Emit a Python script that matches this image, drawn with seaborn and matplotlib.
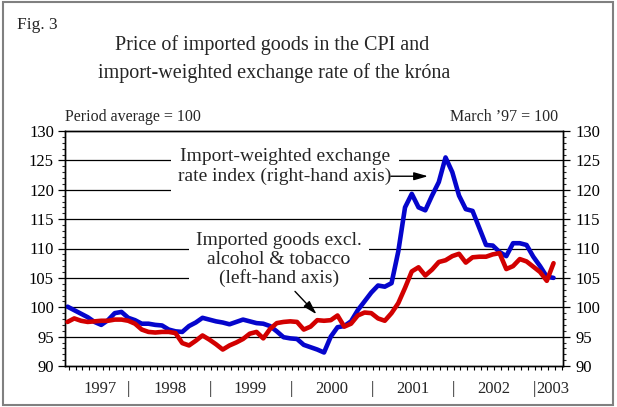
import matplotlib
matplotlib.use("Agg")
import matplotlib.pyplot as plt
import matplotlib.transforms as mtransforms
from matplotlib.patches import Rectangle
from matplotlib.ticker import MultipleLocator
import numpy as np
import pandas as pd
import seaborn as sns

# ---------------- data (monthly, March 1997 - March 2003) ----------------
months = pd.date_range("1997-03-01", "2003-03-01", freq="MS")
exchange_rate = [  # import-weighted exchange rate index, March '97 = 100 (right axis)
    100.1, 99.5, 98.9, 98.3, 97.5, 97.0, 97.8, 99.0, 99.2, 98.2,
    97.8, 97.2, 97.2, 97.0, 96.9, 96.2, 95.9, 95.8, 96.8, 97.4,
    98.2, 97.9, 97.6, 97.4, 97.1, 97.5, 97.9, 97.6, 97.3, 97.2,
    96.8, 95.9, 94.9, 94.7, 94.6, 93.6, 93.2, 92.8, 92.3, 95.0,
    96.6, 96.8, 97.6, 99.5, 101.0, 102.5, 103.7, 103.5, 104.1, 109.5,
    117.0, 119.3, 117.0, 116.5, 119.0, 121.3, 125.5, 123.0, 119.0, 116.7,
    116.4, 113.5, 110.6, 110.5, 109.4, 108.7, 110.9, 110.9, 110.6, 108.6,
    107.0, 105.2, 105.0,
]
imported_goods = [  # imported goods excl. alcohol & tobacco, period average = 100 (left axis)
    97.5, 98.1, 97.7, 97.5, 97.6, 97.7, 97.7, 97.9, 97.9, 97.7,
    97.2, 96.2, 95.8, 95.7, 95.8, 95.8, 95.6, 93.9, 93.5, 94.3,
    95.2, 94.5, 93.7, 92.8, 93.5, 94.0, 94.6, 95.5, 95.8, 94.7,
    96.3, 97.3, 97.5, 97.6, 97.5, 96.2, 96.7, 97.8, 97.7, 97.8,
    98.6, 96.7, 97.2, 98.6, 99.1, 99.0, 98.1, 97.7, 99.0, 100.7,
    103.3, 106.1, 106.8, 105.4, 106.4, 107.7, 108.0, 108.7, 109.1, 107.6,
    108.5, 108.6, 108.6, 109.0, 109.2, 106.5, 107.0, 108.2, 107.8, 106.9,
    106.0, 104.5, 107.5,
]
year_labels = ["1997", "1998", "1999", "2000", "2001", "2002", "2003"]
y_ticks = [90, 95, 100, 105, 110, 115, 120, 125, 130]
grid_levels = [95, 100, 105, 110, 115, 120, 125]

df = pd.DataFrame({
    "month": months,
    "t": np.arange(len(months)),
    "exchange_rate": exchange_rate,
    "imported_goods": imported_goods,
})

# ---------------- style ----------------
sns.set_theme(style="white")
plt.rcParams["font.family"] = ["Liberation Serif", "DejaVu Serif"]
plt.rcParams["axes.edgecolor"] = "black"

BLUE = "#0505CC"
RED = "#D20000"

W, H = 617, 407
fig = plt.figure(figsize=(W / 100, H / 100), dpi=100)
fig.patch.set_facecolor("white")

L, R, T, B = 65, 563, 131, 366
ax = fig.add_axes([L / W, 1 - B / H, (R - L) / W, (B - T) / H])
ax2 = ax.twinx()
ax.set_zorder(ax2.get_zorder() + 1)
ax.patch.set_visible(False)

x0 = -0.37
x1 = 73.4
for a in (ax, ax2):
    a.set_xlim(x0, x1)
    a.set_ylim(90, 130)
    for s in a.spines.values():
        s.set_color("black")
        s.set_linewidth(1.0)

# gridlines (drawn beneath everything)
for g in grid_levels:
    ax2.axhline(g, color="black", lw=0.9, zorder=0.5)

# series
sns.lineplot(data=df, x="t", y="exchange_rate", ax=ax2, color=BLUE, lw=3.3,
             zorder=3, legend=False)
sns.lineplot(data=df, x="t", y="imported_goods", ax=ax, color=RED, lw=3.3,
             zorder=3, legend=False)
ax.set_xlabel("")
ax.set_ylabel("")
ax2.set_xlabel("")
ax2.set_ylabel("")

# y axes
ax.set_yticks(y_ticks)
ax.yaxis.set_minor_locator(MultipleLocator(1))
ax.tick_params(axis="y", which="major", left=True, right=False, direction="out",
               length=5, width=0.9, pad=3, labelsize=12, colors="black")
ax.tick_params(axis="y", which="minor", left=True, right=False, direction="out",
               length=2.5, width=0.8)
ax2.set_yticks(y_ticks)
ax2.yaxis.set_minor_locator(MultipleLocator(1))
ax2.tick_params(axis="y", which="major", right=True, left=False, direction="out",
                length=5, width=0.9, pad=4, labelsize=12, colors="black")
ax2.tick_params(axis="y", which="minor", right=True, left=False, direction="out",
                length=2.5, width=0.8)

# x axis: monthly ticks, no labels
ax.set_xticks([])
ax.set_xticks(np.arange(0, 74) + 0.2, minor=True)
ax.tick_params(axis="x", which="minor", bottom=True, top=False, direction="out",
               length=3, width=0.8, colors="black")
ax.tick_params(axis="x", which="major", bottom=False, labelbottom=False)
ax2.tick_params(axis="x", which="both", bottom=False, top=False, labelbottom=False)

# year labels and separators
tr = mtransforms.blended_transform_factory(ax.transData, fig.transFigure)
ylab = 1 - 389 / H
year_pos = [4.8, 15.2, 27.1, 39.1, 51.1, 63.1]
for lab, xp in zip(year_labels[:-1], year_pos):
    fig.text(xp, ylab, lab, transform=tr, ha="center", va="center", fontsize=12)
for k in range(6):
    fig.text(9.1 + 12 * k, ylab, "|", transform=tr, ha="center", va="center",
             fontsize=12)
fig.text(69.4, ylab, year_labels[-1], transform=tr, ha="left", va="center",
         fontsize=12)

# annotations (on lower axes so white boxes hide gridlines only)
ax2.text(32.2, 123.9, "Import-weighted exchange\nrate index (right-hand axis)",
         ha="center", va="center", fontsize=14, linespacing=1.22, zorder=2,
         bbox=dict(facecolor="white", edgecolor="none", pad=5))
ax2.text(31.3, 108.1, "Imported goods excl.\nalcohol & tobacco\n(left-hand axis)",
         ha="center", va="center", fontsize=14, linespacing=1.12, zorder=2,
         bbox=dict(facecolor="white", edgecolor="none", pad=5))
ax.annotate("", xy=(53.4, 122.3), xytext=(47.9, 122.3),
            arrowprops=dict(arrowstyle="-|>,head_length=0.7,head_width=0.2",
                            color="black", lw=1.0, shrinkA=0, shrinkB=0))
ax.annotate("", xy=(36.9, 98.8), xytext=(33.7, 102.7),
            arrowprops=dict(arrowstyle="-|>,head_length=0.7,head_width=0.2",
                            color="black", lw=1.0, shrinkA=0, shrinkB=0))

# headings
fig.text(17 / W, 1 - 29 / H, "Fig. 3", ha="left", va="baseline", fontsize=12.5)
fig.text(272 / W, 1 - 50 / H, "Price of imported goods in the CPI and",
         ha="center", va="baseline", fontsize=14.5)
fig.text(274 / W, 1 - 78 / H, "import-weighted exchange rate of the króna",
         ha="center", va="baseline", fontsize=14.5)
fig.text(65 / W, 1 - 117 / H, "Period average = 100", ha="left", va="center",
         fontsize=11.5)
fig.text(558 / W, 1 - 117 / H, "March \u201997 = 100", ha="right", va="center",
         fontsize=11.5)

# outer frame
fig.patches.append(Rectangle((3 / W, 1 - 405 / H), (613 - 3) / W, (405 - 2) / H,
                             transform=fig.transFigure, fill=False,
                             edgecolor="#808080", lw=1.5))

fig.savefig("out.png", dpi=100, facecolor="white")
